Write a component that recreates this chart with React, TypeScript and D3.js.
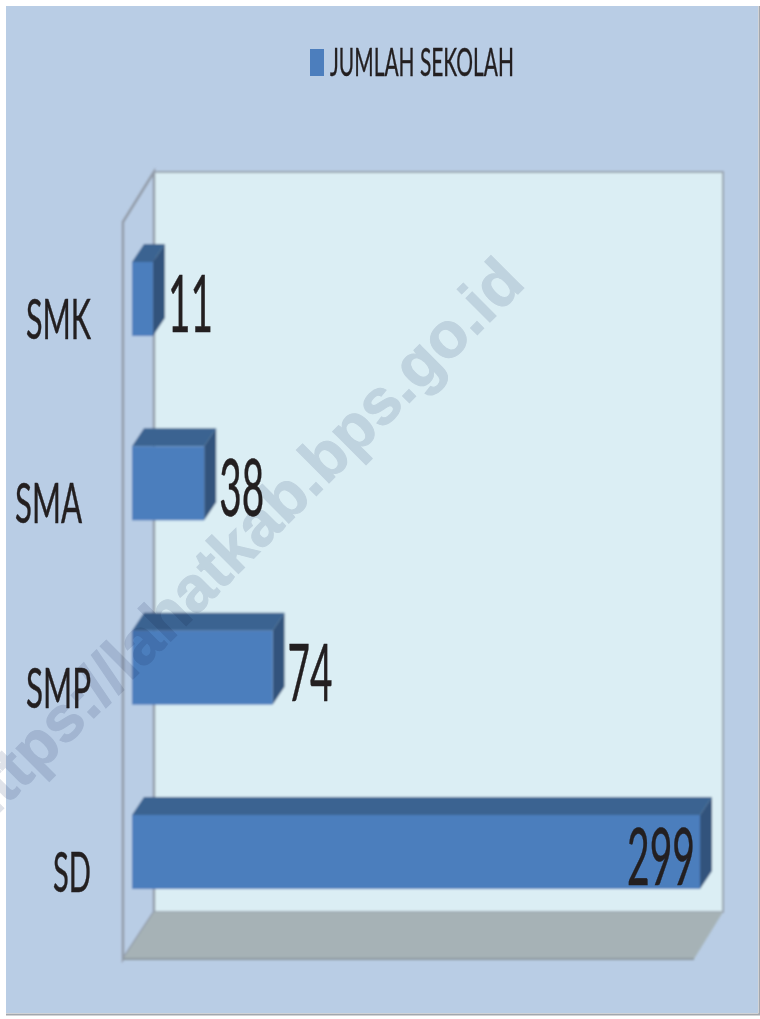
import * as d3 from "d3";

const categories = ["SMK", "SMA", "SMP", "SD"];
const values = [11, 38, 74, 299];
const seriesName = "JUMLAH SEKOLAH";
const watermark = "https://lahatkab.bps.go.id";

const W = 760;
const H = 1019;
// 3d offset of the chart box and of the bars
const wallDx = 31;
const wallDy = 48;
const barDx = 12;
const barDy = 18;
const floorFrontY = 959;
const frontLeft = 123;
const frontTop = 222;

const x = d3.scaleLinear().domain([0, 299]).range([132, 700]);
const y = d3.scaleBand().domain(categories).range([262, 889]).paddingInner(0.5985).paddingOuter(0);

const path = d3.line();
const font = "Lato, 'Open Sans', sans-serif";

// SMA sits a bit further left in the picture
const labelRight: Record<string, number> = { SMK: 91, SMA: 82, SMP: 91, SD: 91 };
const labelWidth: Record<string, number> = { SMK: 65, SMA: 67, SMP: 65, SD: 38 };
const valueWidth: Record<string, number> = { SMK: 45, SMA: 45, SMP: 45, SD: 68 };

export default function App() {
  const backL = frontLeft + wallDx;
  const backT = frontTop - wallDy - 2;
  const backR = 723;
  const backB = floorFrontY - wallDy + 1;
  const h = y.bandwidth();

  return (
    <svg
      width={W}
      height={H}
      style={{ position: "absolute", left: 0, top: 0, background: "#fff" }}
    >
      <defs>
        <filter id="soft">
          <feGaussianBlur stdDeviation="0.8" />
        </filter>
      </defs>
      <rect x={6} y={6} width={752} height={1007} fill="#b9cde5" />
      <path d={`M6 1014.5H759.5V6`} fill="none" stroke="#a3a7ad" strokeWidth={2} />

      <g filter="url(#soft)">
        <rect x={backL} y={backT} width={backR - backL} height={backB - backT} fill="#dbeef4" stroke="#9aa5b1" strokeWidth={2} />
        <path
          d={path([[frontLeft, frontTop], [backL, backT], [backL, backB], [frontLeft, floorFrontY]]) + "Z"}
          fill="#b9cde5"
          stroke="#929ba8"
          strokeWidth={2.5}
        />
        <path
          d={path([[backL, backB], [backR, backB], [694, floorFrontY], [frontLeft, floorFrontY]]) + "Z"}
          fill="#a6b2b6"
        />
        <path d={path([[frontLeft, floorFrontY], [694, floorFrontY]]) ?? ""} stroke="#8b979f" strokeWidth={2} fill="none" />

        {categories.map((c, i) => {
          const top = y(c) ?? 0;
          const x0 = x(0);
          const x1 = x(values[i]);
          return (
            <g key={c}>
              <path
                d={path([[x0, top], [x0 + barDx, top - barDy], [x1 + barDx, top - barDy], [x1, top]]) + "Z"}
                fill="#3b6391"
              />
              <path
                d={path([[x1, top], [x1 + barDx, top - barDy], [x1 + barDx, top + h - barDy], [x1, top + h]]) + "Z"}
                fill="#30527c"
              />
              <rect x={x0} y={top} width={x1 - x0} height={h} fill="#4c7ebd" />
            </g>
          );
        })}
      </g>

      <text
        transform="translate(527 285) rotate(-45)"
        textAnchor="end"
        fontFamily="'Liberation Sans', Arial, sans-serif"
        fontWeight="bold"
        fontSize={64}
        fill="#dfe2e9"
        stroke="#dfe2e9"
        strokeWidth={1}
        style={{ mixBlendMode: "multiply" }}
      >
        {watermark}
      </text>

      <rect x={310} y={49} width={14} height={27} fill="#4c7ebd" />
      <text
        x={330}
        y={76}
        fontFamily={font}
        fontSize={38}
        fill="#231f20"
        stroke="#231f20"
        strokeWidth={0.4}
        textLength={184}
        lengthAdjust="spacingAndGlyphs"
      >
        {seriesName}
      </text>

      {categories.map((c, i) => {
        const top = y(c) ?? 0;
        const inside = c === "SD";
        const vx = inside ? x(values[i]) - 73 : x(values[i]) + 15;
        return (
          <g key={c} fontFamily={font} fill="#231f20" stroke="#231f20" strokeWidth={0.5}>
            <text
              x={labelRight[c] - labelWidth[c]}
              y={top + 77}
              fontSize={56}
              textLength={labelWidth[c]}
              lengthAdjust="spacingAndGlyphs"
            >
              {c}
            </text>
            <text
              x={vx}
              y={top + 70}
              fontSize={80}
              textLength={valueWidth[c]}
              lengthAdjust="spacingAndGlyphs"
            >
              {values[i]}
            </text>
          </g>
        );
      })}
    </svg>
  );
}
